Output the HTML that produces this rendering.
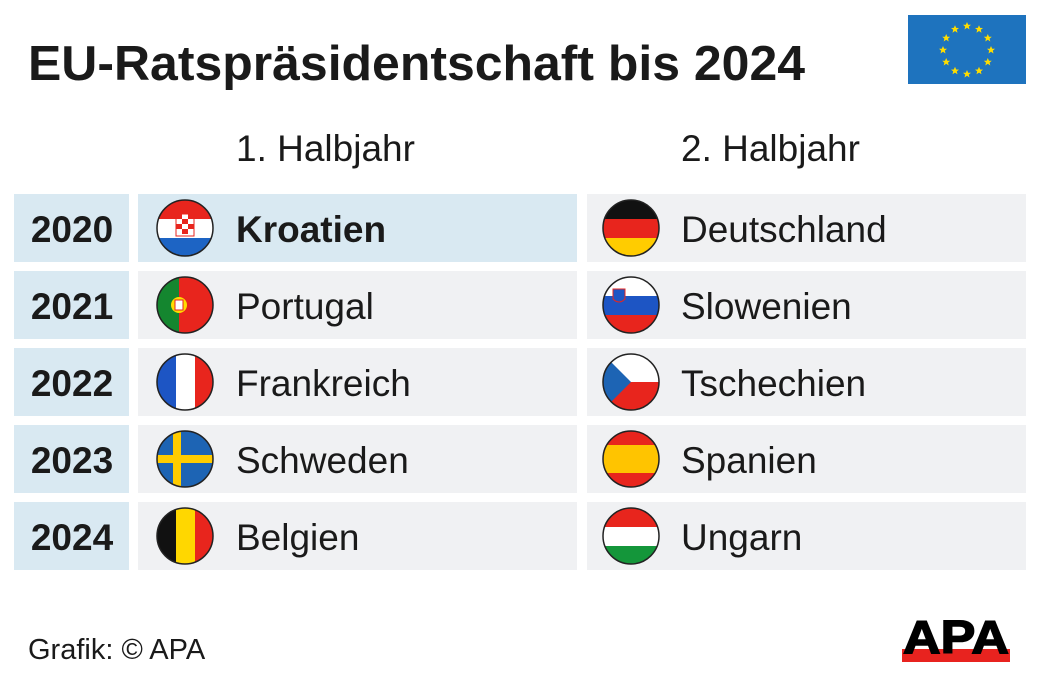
<!DOCTYPE html>
<html><head><meta charset="utf-8"><style>
body{margin:0;background:#fff}
svg{display:block}
text{font-family:"Liberation Sans",Arial,sans-serif;fill:#1a1a1a}
</style></head><body>
<svg width="1040" height="687" viewBox="0 0 1040 687" xmlns="http://www.w3.org/2000/svg">
<defs>
<clipPath id="c"><circle cx="0" cy="0" r="28"/></clipPath>
<polygon id="st" points="0,-4 1.2,-1.3 4,-1.2 1.8,0.6 2.5,3.5 0,1.8 -2.5,3.5 -1.8,0.6 -4,-1.2 -1.2,-1.3" fill="#ffdd00"/>
</defs>
<rect width="1040" height="687" fill="#fff"/>
<text x="28" y="80" font-size="49" font-weight="bold" textLength="777" lengthAdjust="spacingAndGlyphs">EU-Ratspräsidentschaft bis 2024</text>
<rect x="908" y="15" width="118" height="69" fill="#1e73be"/>
<g transform="translate(967,50)">
<use href="#st" x="0" y="-24"/><use href="#st" x="12" y="-20.8"/><use href="#st" x="20.8" y="-12"/><use href="#st" x="24" y="0"/><use href="#st" x="20.8" y="12"/><use href="#st" x="12" y="20.8"/><use href="#st" x="0" y="24"/><use href="#st" x="-12" y="20.8"/><use href="#st" x="-20.8" y="12"/><use href="#st" x="-24" y="0"/><use href="#st" x="-20.8" y="-12"/><use href="#st" x="-12" y="-20.8"/>
</g>
<text x="236" y="161" font-size="37">1. Halbjahr</text>
<text x="681" y="161" font-size="37">2. Halbjahr</text>
<g>
<rect x="14" y="194" width="115" height="68" fill="#d9e9f2"/>
<rect x="138" y="194" width="439" height="68" fill="#d9e9f2"/>
<rect x="587" y="194" width="439" height="68" fill="#f0f1f3"/>
<rect x="14" y="271" width="115" height="68" fill="#d9e9f2"/>
<rect x="138" y="271" width="439" height="68" fill="#f0f1f3"/>
<rect x="587" y="271" width="439" height="68" fill="#f0f1f3"/>
<rect x="14" y="348" width="115" height="68" fill="#d9e9f2"/>
<rect x="138" y="348" width="439" height="68" fill="#f0f1f3"/>
<rect x="587" y="348" width="439" height="68" fill="#f0f1f3"/>
<rect x="14" y="425" width="115" height="68" fill="#d9e9f2"/>
<rect x="138" y="425" width="439" height="68" fill="#f0f1f3"/>
<rect x="587" y="425" width="439" height="68" fill="#f0f1f3"/>
<rect x="14" y="502" width="115" height="68" fill="#d9e9f2"/>
<rect x="138" y="502" width="439" height="68" fill="#f0f1f3"/>
<rect x="587" y="502" width="439" height="68" fill="#f0f1f3"/>
</g>
<g font-size="37" font-weight="bold">
<text x="72" y="242" text-anchor="middle">2020</text>
<text x="72" y="319" text-anchor="middle">2021</text>
<text x="72" y="396" text-anchor="middle">2022</text>
<text x="72" y="473" text-anchor="middle">2023</text>
<text x="72" y="550" text-anchor="middle">2024</text>
</g>
<g font-size="37">
<text x="236" y="242" font-weight="bold">Kroatien</text>
<text x="236" y="319">Portugal</text>
<text x="236" y="396">Frankreich</text>
<text x="236" y="473">Schweden</text>
<text x="236" y="550">Belgien</text>
<text x="681" y="242">Deutschland</text>
<text x="681" y="319">Slowenien</text>
<text x="681" y="396">Tschechien</text>
<text x="681" y="473">Spanien</text>
<text x="681" y="550">Ungarn</text>
</g>
<g transform="translate(185,228)"><g clip-path="url(#c)">
<rect x="-28" y="-28" width="56" height="19" fill="#e8251d"/><rect x="-28" y="-9" width="56" height="19" fill="#fff"/><rect x="-28" y="10" width="56" height="18" fill="#1d64c4"/>
<rect x="-9" y="-14" width="18" height="22" fill="#fff" stroke="#e8251d" stroke-width="1"/>
<path d="M-9,-14h6v5h-6zM3,-14h6v5h-6zM-3,-9h6v5h-6zM-9,-4h6v5h-6zM3,-4h6v5h-6zM-3,1h6v5h-6z" fill="#e8251d"/>
</g><circle r="28" fill="none" stroke="#222" stroke-width="1.5"/></g>
<g transform="translate(185,305)"><g clip-path="url(#c)">
<rect x="-28" y="-28" width="56" height="56" fill="#e8251d"/><rect x="-28" y="-28" width="22" height="56" fill="#14862f"/>
<circle cx="-6" cy="0" r="8" fill="#ffdd00"/><rect x="-10" y="-5" width="8" height="10" fill="#fff" stroke="#e8251d"/>
</g><circle r="28" fill="none" stroke="#222" stroke-width="1.5"/></g>
<g transform="translate(185,382)"><g clip-path="url(#c)">
<rect x="-28" y="-28" width="19" height="56" fill="#1d55c4"/><rect x="-9" y="-28" width="19" height="56" fill="#fff"/><rect x="10" y="-28" width="18" height="56" fill="#e8251d"/>
</g><circle r="28" fill="none" stroke="#222" stroke-width="1.5"/></g>
<g transform="translate(185,459)"><g clip-path="url(#c)">
<rect x="-28" y="-28" width="56" height="56" fill="#1d64b4"/><rect x="-28" y="-4" width="56" height="8" fill="#ffcc00"/><rect x="-12" y="-28" width="8" height="56" fill="#ffcc00"/>
</g><circle r="28" fill="none" stroke="#222" stroke-width="1.5"/></g>
<g transform="translate(185,536)"><g clip-path="url(#c)">
<rect x="-28" y="-28" width="19" height="56" fill="#111"/><rect x="-9" y="-28" width="19" height="56" fill="#ffd700"/><rect x="10" y="-28" width="18" height="56" fill="#e8251d"/>
</g><circle r="28" fill="none" stroke="#222" stroke-width="1.5"/></g>
<g transform="translate(631,228)"><g clip-path="url(#c)">
<rect x="-28" y="-28" width="56" height="19" fill="#111"/><rect x="-28" y="-9" width="56" height="19" fill="#e8251d"/><rect x="-28" y="10" width="56" height="18" fill="#ffcc00"/>
</g><circle r="28" fill="none" stroke="#222" stroke-width="1.5"/></g>
<g transform="translate(631,305)"><g clip-path="url(#c)">
<rect x="-28" y="-28" width="56" height="19" fill="#fff"/><rect x="-28" y="-9" width="56" height="19" fill="#1d55c4"/><rect x="-28" y="10" width="56" height="18" fill="#e8251d"/>
<path d="M-18,-16h12v10q-6,6-12,0z" fill="#1d55c4" stroke="#e8251d"/>
</g><circle r="28" fill="none" stroke="#222" stroke-width="1.5"/></g>
<g transform="translate(631,382)"><g clip-path="url(#c)">
<rect x="-28" y="-28" width="56" height="28" fill="#fff"/><rect x="-28" y="0" width="56" height="28" fill="#e8251d"/><path d="M-28,-28L0,0L-28,28z" fill="#1d64b4"/>
</g><circle r="28" fill="none" stroke="#222" stroke-width="1.5"/></g>
<g transform="translate(631,459)"><g clip-path="url(#c)">
<rect x="-28" y="-28" width="56" height="56" fill="#e8251d"/><rect x="-28" y="-14" width="56" height="28" fill="#ffc400"/>
</g><circle r="28" fill="none" stroke="#222" stroke-width="1.5"/></g>
<g transform="translate(631,536)"><g clip-path="url(#c)">
<rect x="-28" y="-28" width="56" height="19" fill="#e8251d"/><rect x="-28" y="-9" width="56" height="19" fill="#fff"/><rect x="-28" y="10" width="56" height="18" fill="#14963a"/>
</g><circle r="28" fill="none" stroke="#222" stroke-width="1.5"/></g>
<text x="28" y="659" font-size="29">Grafik: © APA</text>
<rect x="902" y="649" width="108" height="13" fill="#e8231f"/>
<text x="956" y="653" font-size="46" font-weight="bold" text-anchor="middle" style="fill:#000;stroke:#000;stroke-width:1.5" textLength="106" lengthAdjust="spacingAndGlyphs">APA</text>
</svg>
</body></html>
